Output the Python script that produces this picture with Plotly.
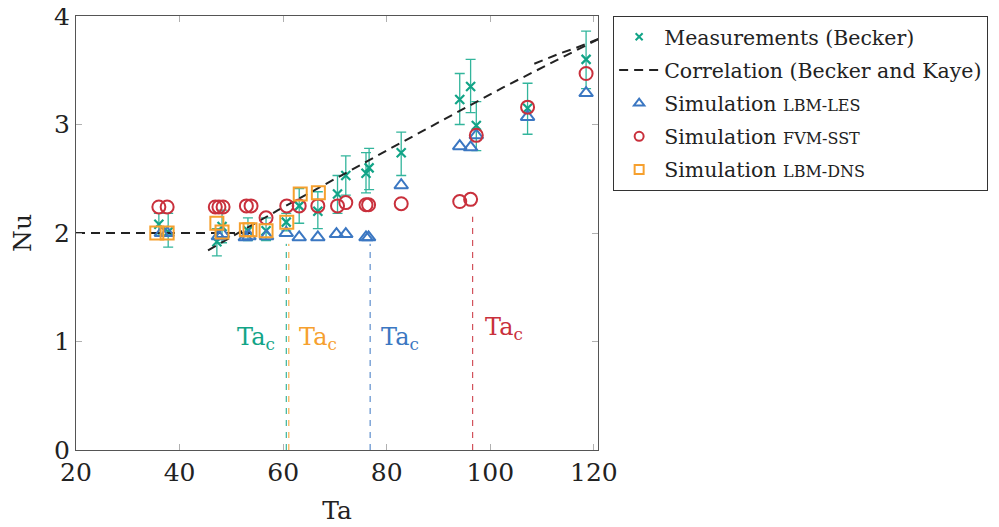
import plotly.graph_objects as go

# ---------------- data ----------------
meas_ta = [36.0, 37.8, 47.2, 48.2, 53.2, 56.7, 60.6, 63.1, 66.7, 70.5, 72.1, 76.0, 76.6, 82.8, 94.1, 96.2, 97.3, 107.2, 118.5]
meas_nu = [2.08, 2.01, 1.92, 2.06, 2.02, 2.02, 2.10, 2.25, 2.20, 2.36, 2.53, 2.55, 2.60, 2.74, 3.23, 3.35, 2.99, 3.15, 3.60]
meas_err_plus = [0.10, 0.17, 0.12, 0.15, 0.12, 0.12, 0.08, 0.16, 0.18, 0.17, 0.18, 0.19, 0.18, 0.19, 0.24, 0.25, 0.22, 0.23, 0.26]
meas_err_minus = [0.10, 0.14, 0.13, 0.15, 0.09, 0.09, 0.08, 0.16, 0.16, 0.18, 0.18, 0.18, 0.20, 0.21, 0.23, 0.24, 0.23, 0.24, 0.27]

corr_ta = [20, 54, None, 45.5, 59, 80, 102.4, 121, None, 108.5, 113.7, 116.2, 119.5, 121]
corr_nu = [2.0, 2.0, None, 1.84, 2.21, 2.76, 3.34, 3.79, None, 3.56, 3.66, 3.70, 3.76, 3.79]

les_ta = [36.5, 37.6, 47.5, 48.3, 52.7, 53.4, 56.8, 60.6, 63.1, 66.7, 70.3, 72.1, 76.0, 76.5, 82.8, 94.1, 96.2, 97.3, 107.2, 118.5]
les_nu = [2.00, 2.00, 1.97, 1.99, 1.96, 1.97, 1.97, 2.00, 1.96, 1.96, 1.99, 1.99, 1.96, 1.96, 2.44, 2.80, 2.79, 2.90, 3.07, 3.29]

fvm_ta = [36.0, 37.6, 46.9, 47.6, 48.4, 52.9, 53.8, 56.7, 60.7, 63.1, 66.7, 70.5, 72.1, 76.0, 76.5, 82.8, 94.1, 96.2, 97.3, 107.2, 118.5]
fvm_nu = [2.24, 2.24, 2.24, 2.24, 2.24, 2.25, 2.25, 2.14, 2.25, 2.25, 2.25, 2.25, 2.28, 2.26, 2.26, 2.27, 2.29, 2.31, 2.90, 3.16, 3.47]

dns_ta = [35.6, 37.6, 47.2, 48.2, 52.9, 53.6, 56.7, 60.7, 63.3, 66.8]
dns_nu = [2.00, 2.00, 2.09, 2.01, 2.03, 2.03, 2.02, 2.10, 2.36, 2.37]

tac_ta = [60.6, 61.1, 76.8, 96.6]
tac_top = [1.90, 1.90, 1.90, 2.15]
tac_label_ta = [54.8, 66.7, 82.6, 102.7]
tac_label_nu = [1.03, 1.03, 1.03, 1.12]

x_ticks = [20, 40, 60, 80, 100, 120]
y_ticks = [0, 1, 2, 3, 4]

GREEN = "#12a487"
GREEN_ERR = "#33b59c"
BLUE = "#3b77c2"
RED = "#c9303c"
ORANGE = "#f6a02e"
tac_colors = [GREEN, ORANGE, BLUE, RED]

FONT = "DejaVu Serif"

fig = go.Figure()

# vertical Ta_c lines
for t, top, c in zip(tac_ta, tac_top, tac_colors):
    fig.add_trace(go.Scatter(x=[t, t], y=[0, top], mode="lines",
                             line=dict(color=c, width=1, dash="6px,6px"),
                             showlegend=False, hoverinfo="skip"))

# measurements
fig.add_trace(go.Scatter(
    x=meas_ta, y=meas_nu, mode="markers", showlegend=False,
    marker=dict(symbol="x-thin", size=9, color=GREEN, line=dict(color=GREEN, width=2.2)),
    error_y=dict(type="data", symmetric=False, array=meas_err_plus, arrayminus=meas_err_minus,
                 color=GREEN_ERR, thickness=1.3, width=5)))

# correlation
fig.add_trace(go.Scatter(x=corr_ta, y=corr_nu, mode="lines", showlegend=False,
                         line=dict(color="#222222", width=2, dash="9px,6px")))

fig.add_trace(go.Scatter(x=les_ta, y=les_nu, mode="markers", showlegend=False,
                         marker=dict(symbol="triangle-up-open", size=12, color=BLUE, line=dict(width=2))))
fig.add_trace(go.Scatter(x=fvm_ta, y=fvm_nu, mode="markers", showlegend=False,
                         marker=dict(symbol="circle-open", size=13, color=RED, line=dict(width=2))))
fig.add_trace(go.Scatter(x=dns_ta, y=dns_nu, mode="markers", showlegend=False,
                         marker=dict(symbol="square-open", size=13, color=ORANGE, line=dict(width=2))))

# legend entries
sc = "<span style='font-size:16px'>%s</span>"
legend_items = [
    ("Measurements (Becker)", dict(mode="markers", marker=dict(symbol="x-thin", size=7, color=GREEN, line=dict(color=GREEN, width=2)))),
    ("Correlation (Becker and Kaye)", dict(mode="lines", line=dict(color="#222222", width=2, dash="9px,6px"))),
    ("Simulation " + sc % "LBM-LES", dict(mode="markers", marker=dict(symbol="triangle-up-open", size=9, color=BLUE, line=dict(width=2)))),
    ("Simulation " + sc % "FVM-SST", dict(mode="markers", marker=dict(symbol="circle-open", size=9, color=RED, line=dict(width=2)))),
    ("Simulation " + sc % "LBM-DNS", dict(mode="markers", marker=dict(symbol="square-open", size=9, color=ORANGE, line=dict(width=2)))),
]
for i, (name, kw) in enumerate(legend_items):
    fig.add_trace(go.Scatter(x=[None], y=[None], name=name, legendgroup=str(i), **kw))

for t, y, c in zip(tac_label_ta, tac_label_nu, tac_colors):
    fig.add_annotation(x=t, y=y, text="Ta<sub>c</sub>", showarrow=False,
                       font=dict(family=FONT, size=24, color=c))

axis_common = dict(showline=True, linecolor="#555555", linewidth=1.2, mirror="ticks",
                   ticks="inside", ticklen=6, tickcolor="#b0b0b0", tickwidth=1.2,
                   showgrid=False, zeroline=False, automargin=False,
                   ticklabeloverflow="allow",
                   tickfont=dict(family=FONT, size=25, color="#222222"))

# the page places the figure 8px from its top-left corner
fig.update_layout(
    width=991, height=519,
    margin=dict(l=68, r=401, t=8, b=77),
    paper_bgcolor="white", plot_bgcolor="white",
    font=dict(family=FONT, color="#222222"),
    xaxis=dict(range=[20, 120.8], tickvals=x_ticks,
               title=dict(text="Ta", font=dict(family=FONT, size=25)), **axis_common),
    yaxis=dict(range=[0, 4], tickvals=y_ticks,
               title=dict(text="Nu", font=dict(family=FONT, size=25)), **axis_common),
    legend=dict(x=1.029, y=1, xanchor="left", yanchor="top",
                bordercolor="#333333", borderwidth=1, bgcolor="white",
                font=dict(family=FONT, size=20.5, color="#222222"),
                tracegroupgap=3.5, itemwidth=40),
)

fig.write_html("out.html")
